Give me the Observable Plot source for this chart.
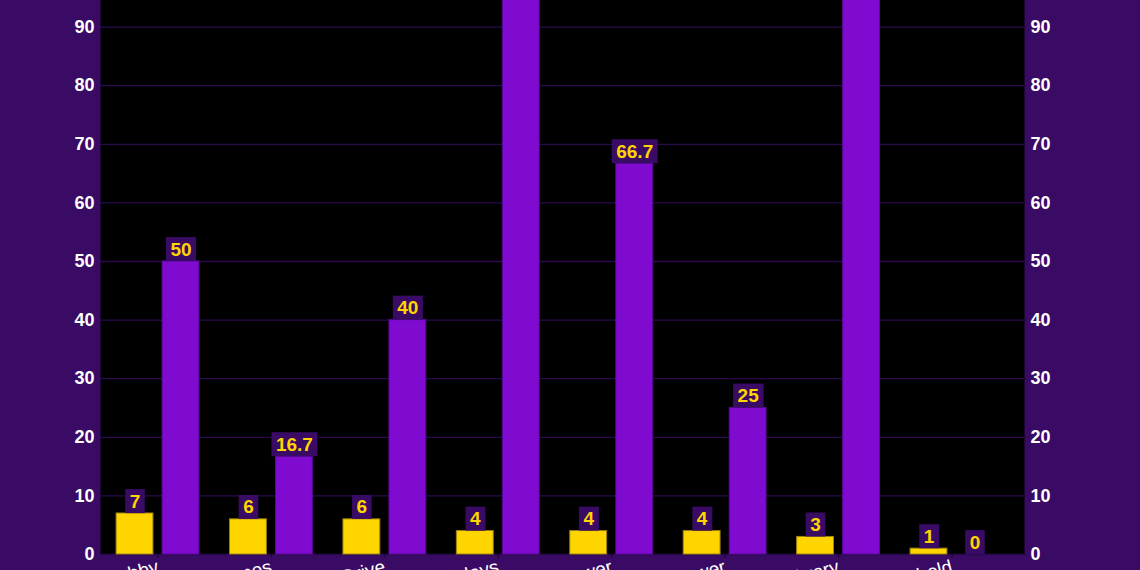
<!DOCTYPE html>
<html>
<head>
<meta charset="utf-8">
<script src="https://cdn.jsdelivr.net/npm/d3@7"></script>
<script src="https://cdn.jsdelivr.net/npm/@observablehq/plot@0.6"></script>
<style>
  html, body { margin: 0; padding: 0; background: #390b64; overflow: hidden; }
  #chart svg { display: block; margin-top: -73px; }
</style>
</head>
<body>
<div id="chart"></div>
<script>
const categories = ["Hobby", "Games", "Drive", "Holidays", "Power", "Flower", "Library", "Household"];
const counts = [7, 6, 6, 4, 4, 4, 3, 1];
const percents = [50, 16.7, 40, 100, 66.7, 25, 100, 0];
const yTicks = [0, 10, 20, 30, 40, 50, 60, 70, 80, 90];

const countData = categories.map((c, i) => ({category: c, value: counts[i]}));
const pctData = categories.map((c, i) => ({category: c, value: percents[i]}));

const PURPLE_BG = "#390b64";
const YELLOW = "#ffd500";
const VIOLET = "#7f0bd1";
const font = "'Liberation Sans', Arial, sans-serif";

const chart = Plot.plot({
  width: 1140,
  height: 706,
  marginLeft: 100,
  marginRight: 116,
  marginTop: 41,
  marginBottom: 79,
  style: {background: PURPLE_BG, color: "white", fontFamily: font, fontSize: "18px", fontWeight: "bold"},
  x: {domain: categories, range: [100.8, 1008.2], paddingInner: 0.675, paddingOuter: 0.3375, round: false, label: null},
  y: {domain: [0, 100], label: null},
  marks: [
    Plot.frame({fill: "black", stroke: null}),
    Plot.gridY(yTicks, {stroke: "#2a0a4d", strokeOpacity: 1, strokeWidth: 1.3}),
    Plot.barY(countData, {x: "category", y: "value", fill: YELLOW, stroke: "#9c8110", strokeWidth: 1, dx: -23}),
    Plot.barY(pctData, {x: "category", y: "value", fill: VIOLET, stroke: "#5a0896", strokeWidth: 1, dx: 23}),
    Plot.text(countData, {x: "category", y: "value", text: d => String(d.value), dx: -23, dy: -12, fill: YELLOW, fontSize: 19, fontWeight: "bold", className: "vlabel", lineAnchor: "middle"}),
    Plot.text(pctData, {x: "category", y: "value", text: d => String(d.value), dx: 23, dy: -12, fill: YELLOW, fontSize: 19, fontWeight: "bold", className: "vlabel", lineAnchor: "middle"}),
    Plot.axisY(yTicks, {anchor: "left", tickSize: 0, tickPadding: 6, fill: "white", fontSize: 18, fontWeight: "bold", label: null}),
    Plot.axisY(yTicks, {anchor: "right", tickSize: 2, tickPadding: 4, fill: "white", stroke: "#2a0a4d", fontSize: 18, fontWeight: "bold", label: null}),
    Plot.axisX({tickSize: 4, stroke: "#1c0633", tickPadding: 8, tickRotate: -15, fill: "white", fontSize: 19, fontWeight: "normal", label: null})
  ]
});

document.getElementById("chart").appendChild(chart);

// draw a background box behind each value label, sized from the rendered text
chart.querySelectorAll("g.vlabel").forEach(g => {
  g.querySelectorAll("text").forEach(t => {
    const b = t.getBBox();
    const cy = b.y + b.height / 2;
    const r = document.createElementNS("http://www.w3.org/2000/svg", "rect");
    r.setAttribute("x", b.x - 4.5);
    r.setAttribute("y", cy - 12);
    r.setAttribute("width", b.width + 9);
    r.setAttribute("height", 24);
    r.setAttribute("fill", PURPLE_BG);
    const tr = t.getAttribute("transform");
    if (tr) r.setAttribute("transform", tr);
    t.parentNode.insertBefore(r, t);
  });
});
</script>
</body>
</html>
